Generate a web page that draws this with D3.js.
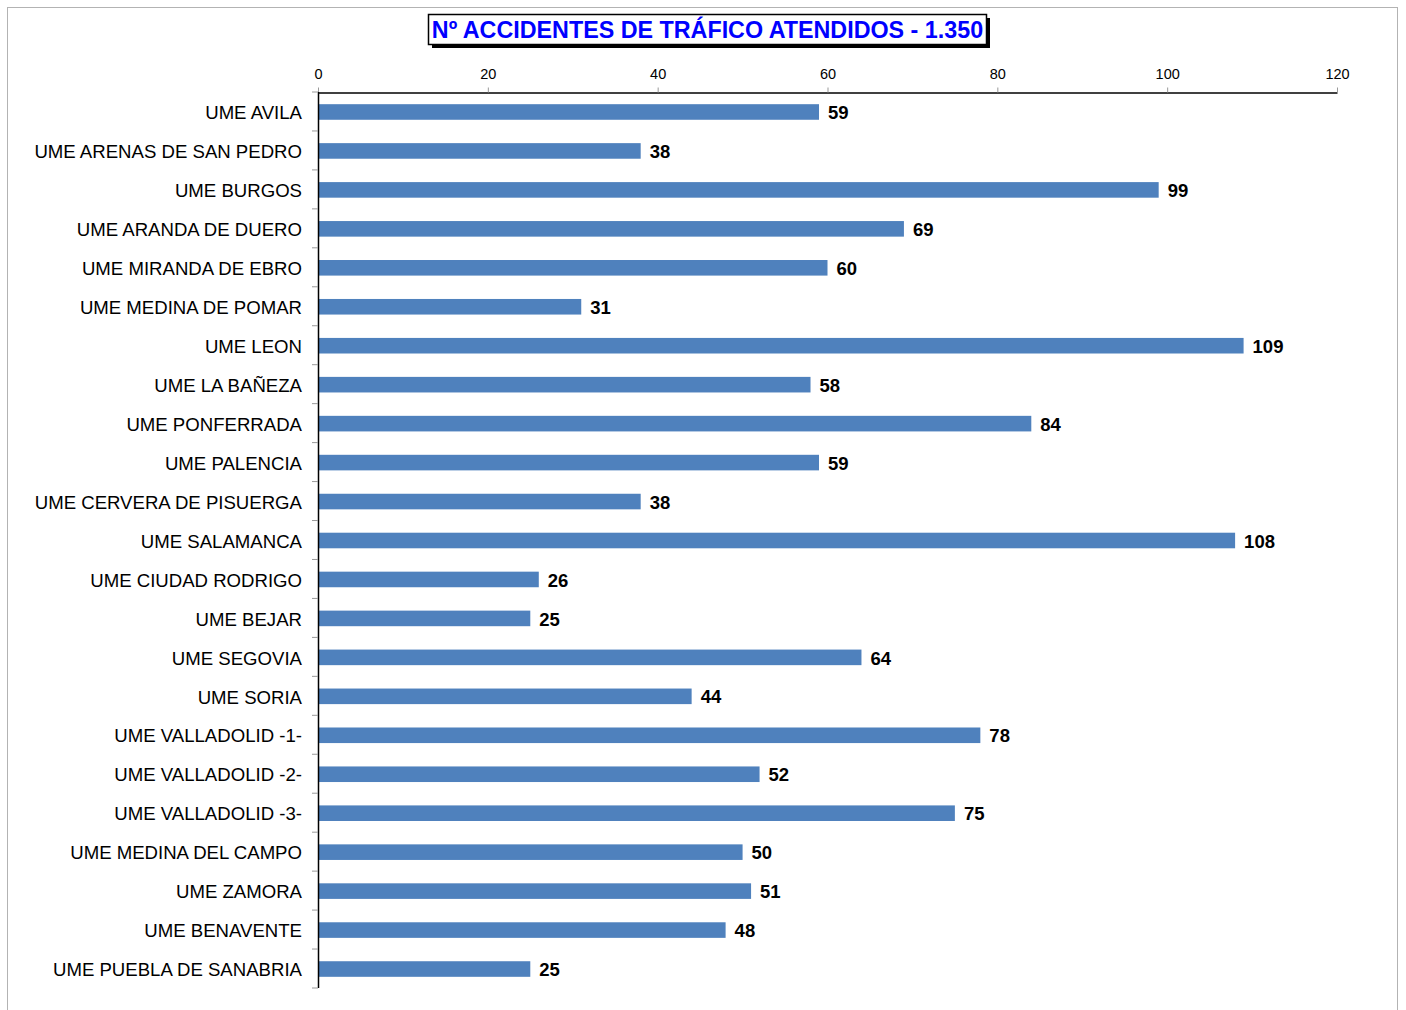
<!DOCTYPE html>
<meta charset="utf-8">
<style>
body { margin: 0; background: #fff; }
svg { display: block; font-family: "Liberation Sans", Arial, sans-serif; }
</style>
<body></body>
<script src="https://cdnjs.cloudflare.com/ajax/libs/d3/7.8.5/d3.min.js"></script>
<script>

var units = ["UME AVILA", "UME ARENAS DE SAN PEDRO", "UME BURGOS", "UME ARANDA DE DUERO",
  "UME MIRANDA DE EBRO", "UME MEDINA DE POMAR", "UME LEON", "UME LA BAÑEZA",
  "UME PONFERRADA", "UME PALENCIA", "UME CERVERA DE PISUERGA", "UME SALAMANCA",
  "UME CIUDAD RODRIGO", "UME BEJAR", "UME SEGOVIA", "UME SORIA",
  "UME VALLADOLID -1-", "UME VALLADOLID -2-", "UME VALLADOLID -3-",
  "UME MEDINA DEL CAMPO", "UME ZAMORA", "UME BENAVENTE", "UME PUEBLA DE SANABRIA"]
var accidents = [59, 38, 99, 69, 60, 31, 109, 58, 84, 59, 38, 108, 26, 25, 64, 44, 78, 52, 75, 50, 51, 48, 25]
var xTicks = [0, 20, 40, 60, 80, 100, 120]
var title = "Nº ACCIDENTES DE TRÁFICO ATENDIDOS - 1.350"

var width = 1406, height = 1010

var svg = d3.select("body").append("svg")
    .attr("width", width)
    .attr("height", height)

// outer frame
svg.append("rect")
    .attr("x", 7.5).attr("y", 7.5)
    .attr("width", 1390).attr("height", 1010)
    .attr("fill", "none")
    .attr("stroke", "#b3b3b3")

var x = d3.scaleLinear().domain([0, 120]).range([318, 1337])
var y = d3.scaleBand().domain(units).range([92, 988]).paddingInner(0.6).paddingOuter(0.3)

// bars
svg.append("g")
  .selectAll("rect")
  .data(accidents)
  .enter().append("rect")
    .attr("x", x(0))
    .attr("y", function(d, i) { return y(units[i]) + 0.5 })
    .attr("width", function(d) { return x(d) - x(0) })
    .attr("height", y.bandwidth())
    .attr("fill", "#4f81bd")

// value labels
svg.append("g")
  .selectAll("text")
  .data(accidents)
  .enter().append("text")
    .attr("x", function(d) { return x(d) + 9 })
    .attr("y", function(d, i) { return y(units[i]) + y.bandwidth() / 2 + 1 })
    .attr("dy", "0.36em")
    .attr("font-size", 18.5)
    .attr("font-weight", "bold")
    .attr("fill", "#000")
    .text(function(d) { return d })

// top axis
var xAxis = svg.append("g")
    .attr("transform", "translate(0,92.5)")
    .call(d3.axisTop(x).tickValues(xTicks).tickSize(5).tickSizeOuter(0).tickPadding(9))
xAxis.select(".domain").attr("stroke", "#000").attr("stroke-width", 1.5)
xAxis.selectAll(".tick line").attr("stroke", "#999")
xAxis.selectAll("text")
    .attr("font-size", 14.5)
    .attr("font-family", "Liberation Sans, Arial, sans-serif")
    .attr("fill", "#000")

// left axis
svg.append("line")
    .attr("x1", 318.5).attr("x2", 318.5)
    .attr("y1", 92).attr("y2", 988)
    .attr("stroke", "#000").attr("stroke-width", 1.5)

var step = (988 - 92) / units.length
svg.append("g")
  .selectAll("line")
  .data(d3.range(units.length + 1))
  .enter().append("line")
    .attr("x1", 312).attr("x2", 318)
    .attr("y1", function(i) { return 92 + i * step })
    .attr("y2", function(i) { return 92 + i * step })
    .attr("stroke", "#999")

svg.append("g")
  .selectAll("text")
  .data(units)
  .enter().append("text")
    .attr("x", 302)
    .attr("y", function(d) { return y(d) + y.bandwidth() / 2 + 1 })
    .attr("dy", "0.36em")
    .attr("text-anchor", "end")
    .attr("font-size", 18.6)
    .attr("fill", "#000")
    .text(function(d) { return d })

// title box with shadow
var tg = svg.append("g")
tg.append("rect")
    .attr("x", 432).attr("y", 18)
    .attr("width", 558).attr("height", 30)
    .attr("fill", "#000")
tg.append("rect")
    .attr("x", 428.5).attr("y", 14.5)
    .attr("width", 558).attr("height", 30)
    .attr("fill", "#fff")
    .attr("stroke", "#000")
    .attr("stroke-width", 1.5)
tg.append("text")
    .attr("x", 707.5).attr("y", 30)
    .attr("dy", "0.36em")
    .attr("text-anchor", "middle")
    .attr("font-size", 23.3)
    .attr("font-weight", "bold")
    .attr("fill", "#0000ff")
    .text(title)

</script>
